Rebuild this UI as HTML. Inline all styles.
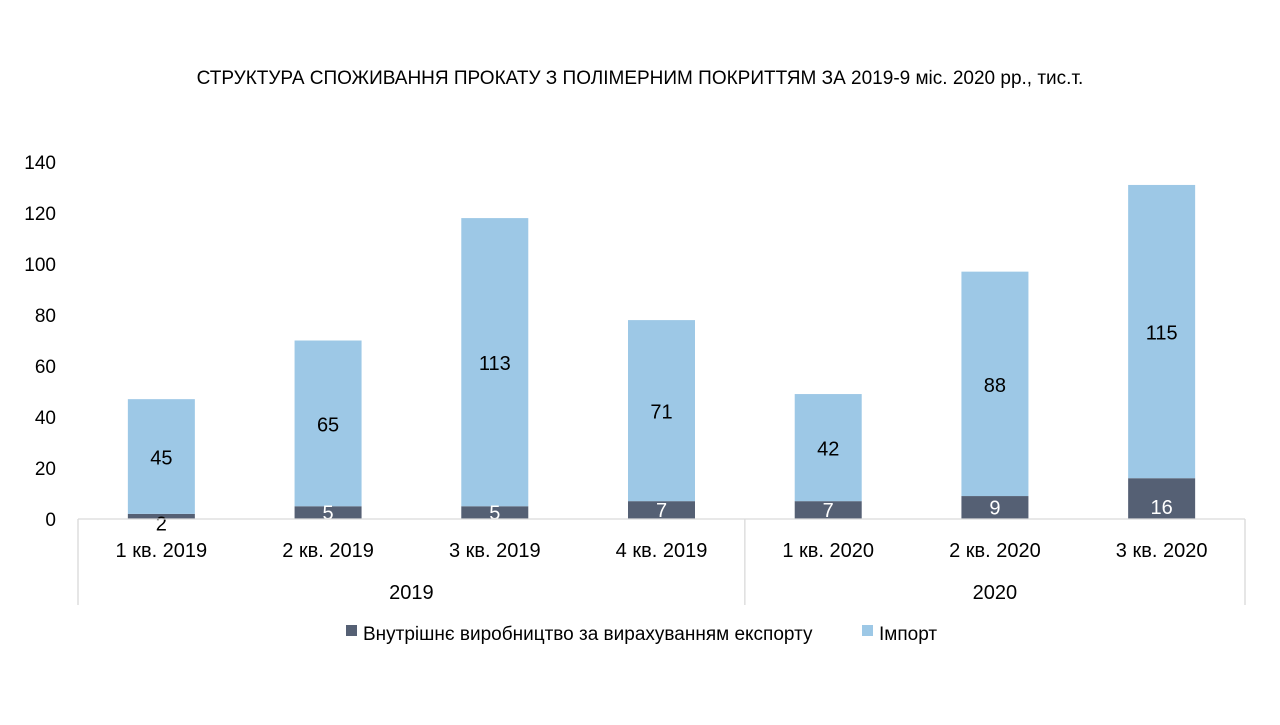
<!DOCTYPE html>
<html><head><meta charset="utf-8"><style>
body{margin:0;background:#fff;}
svg text{font-family:"Liberation Sans Narrow","Liberation Sans",sans-serif;}
</style></head><body>
<svg id="chart" width="1280" height="720" xmlns="http://www.w3.org/2000/svg">
<text x="640" y="84" text-anchor="middle" font-size="19" fill="#000">СТРУКТУРА СПОЖИВАННЯ ПРОКАТУ З ПОЛІМЕРНИМ ПОКРИТТЯМ ЗА 2019-9 міс. 2020 рр., тис.т.</text>
<g id="plot"></g>
<g>
<rect x="346" y="625" width="11" height="11" fill="#556074"/>
<text x="363" y="640" font-size="19">Внутрішнє виробництво за вирахуванням експорту</text>
<rect x="862" y="625" width="11" height="11" fill="#9dc8e6"/>
<text x="879" y="640" font-size="19">Імпорт</text>
</g>
</svg>
<script>
const categories=["1 кв. 2019","2 кв. 2019","3 кв. 2019","4 кв. 2019","1 кв. 2020","2 кв. 2020","3 кв. 2020"];
const domestic=[2,5,5,7,7,9,16];
const imports=[45,65,113,71,42,88,115];
const yTicks=[0,20,40,60,80,100,120,140];
const groups=["2019","2020"];
const groupSizes=[4,3];
const NS="http://www.w3.org/2000/svg";
const g=document.getElementById("plot");
const x0=78,x1=1245,y0=519,yTop=162,ymax=140;
const step=(x1-x0)/categories.length;
const y=v=>y0-(v/ymax)*(y0-yTop);
const xc=i=>x0+step*(i+0.5);
const bw=67;
function el(t,a,txt){const e=document.createElementNS(NS,t);for(const k in a)e.setAttribute(k,a[k]);if(txt!==undefined)e.textContent=txt;g.appendChild(e);return e;}
yTicks.forEach(t=>{
const e=el("text",{x:56,y:y(t)+7,"text-anchor":"end","font-size":"19"},t);


});
categories.forEach((c,i)=>{
const d=domestic[i],m=imports[i];
const r1=el("rect",{x:xc(i)-bw/2,y:y(d),width:bw,height:y0-y(d),fill:"#556074"});


const r2=el("rect",{x:xc(i)-bw/2,y:y(d+m),width:bw,height:y(d)-y(d+m),fill:"#9dc8e6"});


const dy=(y(d)+y0)/2;
const t1=el("text",{x:xc(i),y:Math.max(dy+7,y0-5)+(d<4?7:0),"text-anchor":"middle","font-size":"20",fill:d<4?"#000":"#fff"},d);


const t2=el("text",{x:xc(i),y:(y(d)+y(d+m))/2+8,"text-anchor":"middle","font-size":"20",fill:"#000"},m);


const t3=el("text",{x:xc(i),y:557,"text-anchor":"middle","font-size":"20"},c);


});
const ax=el("line",{x1:x0,y1:y0,x2:x1,y2:y0,stroke:"#d9d9d9","stroke-width":1.3});


let start=0;
const sep=el("line",{x1:x0,y1:y0,x2:x0,y2:605,stroke:"#d9d9d9","stroke-width":1.3});


groups.forEach((gr,k)=>{
const end=start+groupSizes[k];
const xs=x0+step*start,xe=x0+step*end;
const s=el("line",{x1:xe,y1:y0,x2:xe,y2:605,stroke:"#d9d9d9","stroke-width":1.3});


const t=el("text",{x:(xs+xe)/2,y:599,"text-anchor":"middle","font-size":"20"},gr);


start=end;
});
</script>
</body></html>
